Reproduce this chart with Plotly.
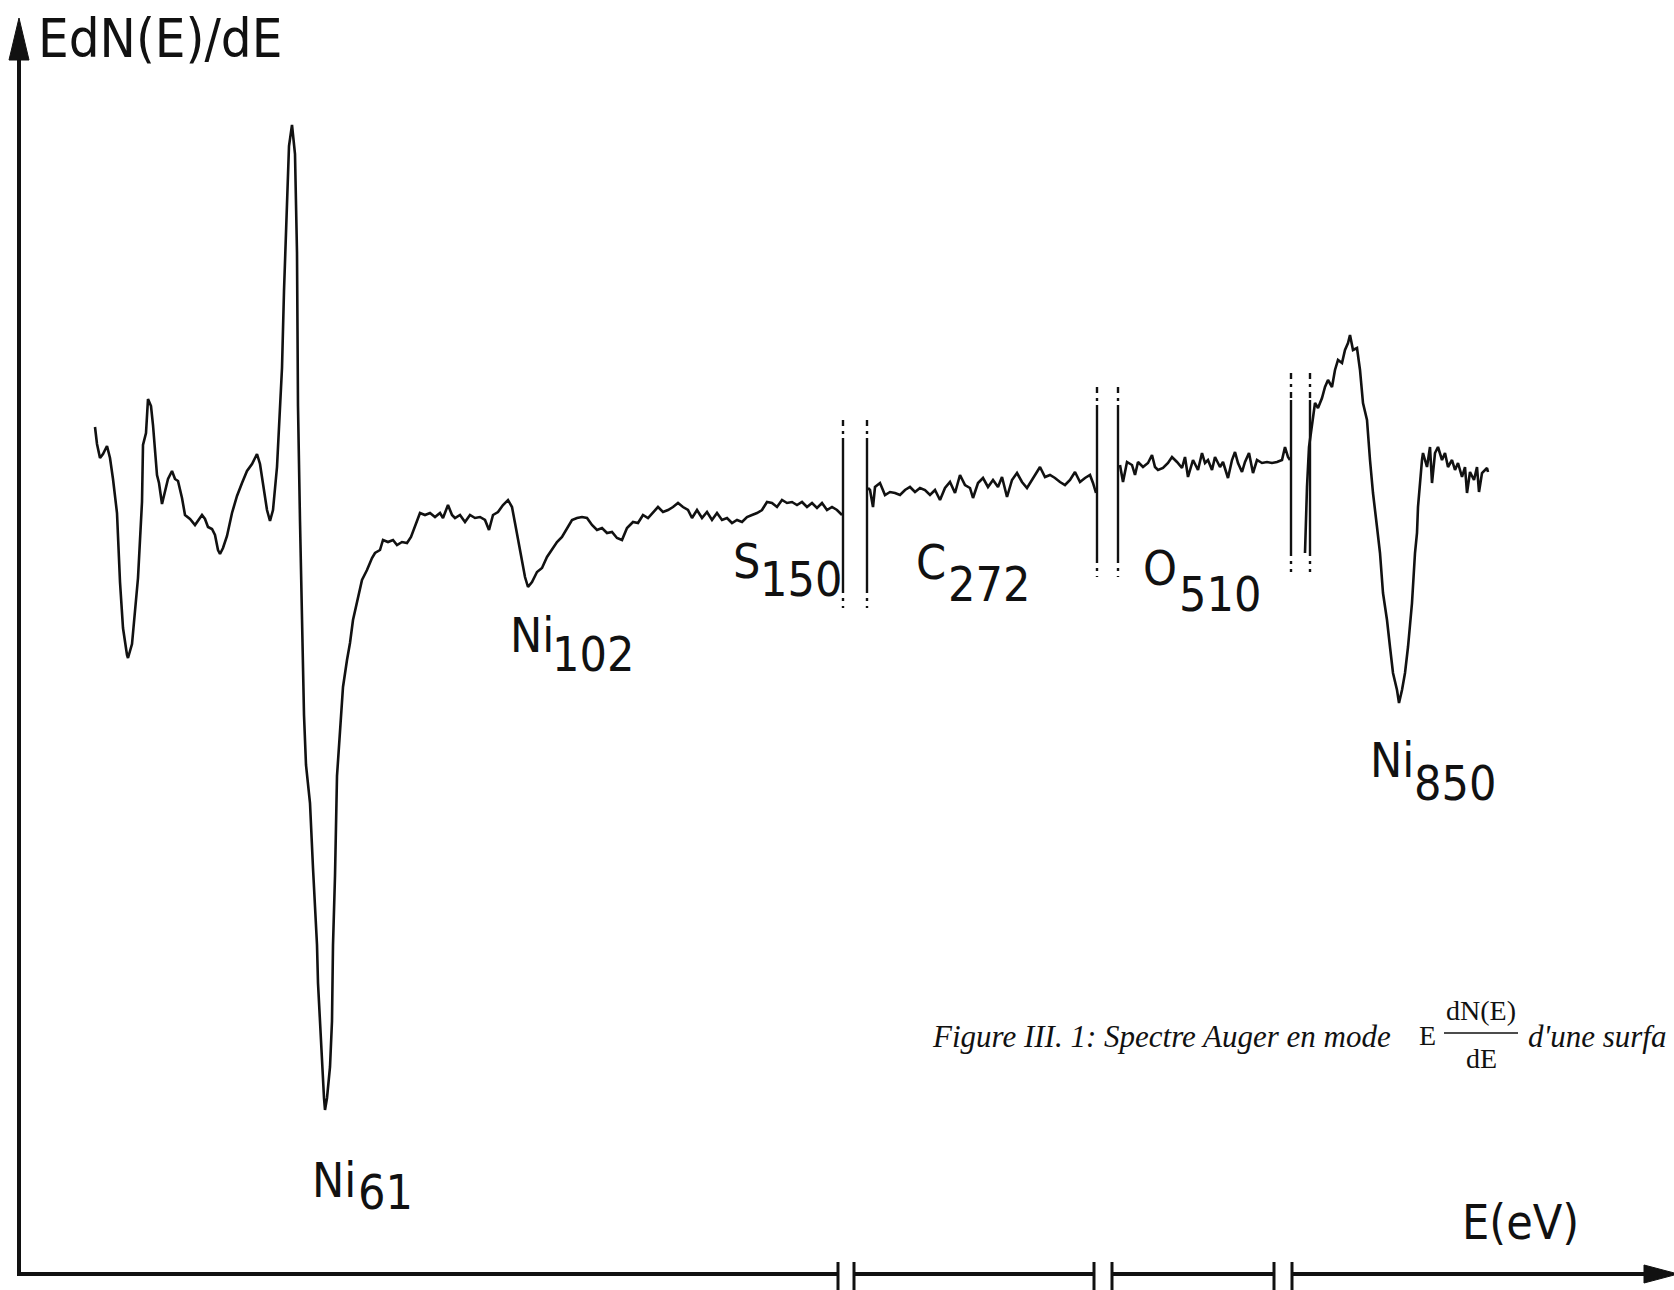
import plotly.graph_objects as go

# ---------------- data: recorder trace (abscissa in chart units, EdN(E)/dE in arbitrary units)
ni_low_x = [95, 97, 100, 103, 107, 110, 113, 117, 120, 123, 127, 128, 132, 135, 138, 142, 143, 146, 148, 151,
            153, 157, 159, 162, 165, 168, 172, 175, 178, 182, 185, 190, 195, 198, 202, 205, 208, 212, 215, 218,
            220, 223, 227, 232, 237, 242, 247, 252, 257, 260, 263, 267, 270, 273, 277, 280, 282, 284, 287, 289,
            292, 295, 297, 298, 300, 302, 304, 306, 310, 313, 317, 318, 320, 322, 323, 324, 325, 327, 330, 332,
            333, 335, 337, 340, 343, 347, 350, 353, 358, 362, 367, 372, 375, 380, 383, 388, 393, 397, 402, 407,
            411, 415, 420, 425, 430, 435, 440, 443, 448, 452, 455, 460, 465, 470, 475, 480, 485, 489, 493, 498,
            503, 508, 512, 515, 518, 522, 525, 528, 532, 537, 542, 547, 552, 557, 562, 567, 572, 577, 582, 587,
            592, 597, 602, 607, 612, 617, 622, 627, 633, 638, 643, 648, 653, 658, 663, 668, 673, 678, 683, 688,
            692, 697, 702, 707, 712, 717, 722, 727, 732, 737, 742, 747, 752, 757, 762, 767, 772, 777, 782, 787,
            792, 797, 802, 807, 812, 817, 822, 827, 832, 837, 842]
ni_low_y = [847, 830, 816, 820, 828, 816, 795, 761, 692, 646, 619, 616, 630, 664, 696, 772, 829, 841, 875, 868,
            849, 799, 791, 770, 783, 795, 803, 795, 793, 776, 759, 755, 749, 753, 759, 755, 747, 745, 739, 724,
            720, 726, 738, 761, 778, 791, 803, 810, 820, 810, 791, 764, 753, 764, 807, 860, 906, 983, 1059, 1128,
            1149, 1120, 1021, 868, 753, 638, 559, 509, 471, 406, 329, 291, 253, 214, 184, 176, 164, 176, 207, 253,
            329, 398, 498, 540, 587, 614, 631, 654, 677, 694, 704, 716, 721, 724, 734, 732, 734, 729, 732, 731,
            737, 747, 761, 759, 761, 757, 761, 756, 769, 759, 756, 759, 752, 759, 756, 757, 754, 744, 759, 762,
            769, 774, 767, 751, 734, 711, 697, 687, 692, 702, 706, 717, 724, 732, 737, 746, 754, 756, 757, 756,
            749, 744, 746, 741, 742, 736, 734, 746, 752, 751, 759, 756, 762, 767, 762, 764, 767, 771, 767, 764,
            756, 764, 756, 762, 754, 761, 754, 756, 751, 754, 752, 757, 759, 761, 764, 772, 771, 767, 774, 771,
            772, 769, 772, 767, 771, 766, 771, 764, 767, 764, 759]

carbon_x = [868, 870, 873, 875, 880, 885, 890, 895, 900, 905, 910, 915, 920, 925, 930, 935, 940, 945, 950, 955,
            960, 965, 970, 973, 978, 983, 988, 993, 998, 1002, 1007, 1012, 1017, 1022, 1027, 1032, 1037, 1040,
            1045, 1050, 1055, 1060, 1065, 1070, 1075, 1080, 1085, 1090, 1093, 1096]
carbon_y = [786, 784, 767, 787, 791, 779, 782, 781, 779, 784, 787, 782, 786, 784, 779, 784, 774, 786, 792, 781,
            799, 789, 786, 776, 791, 796, 787, 794, 787, 797, 777, 794, 801, 792, 786, 794, 801, 807,
            797, 799, 796, 792, 789, 794, 802, 792, 796, 799, 791, 781]

oxygen_x = [1120, 1123, 1127, 1132, 1135, 1138, 1143, 1148, 1152, 1155, 1158, 1163, 1168, 1172, 1177, 1182, 1185,
            1188, 1193, 1198, 1202, 1205, 1208, 1212, 1215, 1220, 1223, 1228, 1232, 1235, 1238, 1242, 1245, 1249,
            1253, 1257, 1262, 1267, 1272, 1277, 1282, 1285, 1288, 1290]
oxygen_y = [809, 792, 812, 809, 799, 812, 807, 811, 819, 807, 804, 806, 811, 817, 812, 806, 817,
            797, 814, 804, 821, 811, 814, 804, 817, 807, 812, 796, 814, 822, 811, 802, 812, 821,
            801, 814, 811, 812, 811, 812, 814, 827, 817, 814]

ni_high_x = [1305, 1307, 1309, 1312, 1315, 1318, 1322, 1325, 1328, 1332, 1335, 1338, 1342, 1345, 1348, 1350, 1353,
             1357, 1360, 1363, 1367, 1370, 1373, 1377, 1380, 1383, 1387, 1390, 1393, 1397, 1399, 1402, 1405, 1408,
             1412, 1415, 1417, 1418, 1420, 1422, 1423, 1427, 1430, 1432, 1435, 1438, 1442, 1445, 1448, 1452, 1455,
             1458, 1462, 1465, 1467, 1470, 1474, 1477, 1479, 1482, 1487, 1488]
ni_high_y = [721, 787, 827, 847, 871, 866, 876, 887, 894, 887, 904, 914, 911, 924, 931, 939, 924,
             926, 904, 871, 854, 814, 781, 747, 721, 681, 654, 627, 601, 584, 571, 584, 601, 627,
             671, 721, 741, 767, 794, 814, 821, 807, 827, 791, 821, 827, 814, 821, 807, 814, 804,
             811, 797, 807, 781, 802, 794, 807, 782, 801, 806, 802]

# peak labels: (element, energy subscript)
peak_names = ["Ni", "Ni", "S", "C", "O", "Ni"]
peak_energies = ["61", "102", "150", "272", "510", "850"]

# axis breaks (pairs of abscissae)
axis_breaks = [(838, 854), (1094, 1112), (1274, 1292)]
trace_breaks = [(843, 867), (1097, 1118), (1291, 1310)]

INK = "#111111"
SANS = "Liberation Sans Narrow, DejaVu Sans Condensed, Arial Narrow, sans-serif"
SERIF = "Liberation Serif, DejaVu Serif, serif"

fig = go.Figure()
for xs, ys in [(ni_low_x, ni_low_y), (carbon_x, carbon_y), (oxygen_x, oxygen_y), (ni_high_x, ni_high_y)]:
    fig.add_trace(go.Scatter(x=xs, y=ys, mode="lines", line=dict(color=INK, width=2.6),
                             hoverinfo="skip", showlegend=False))

shapes = []
# y axis with arrow
shapes.append(dict(type="line", x0=19, x1=19, y0=-2, y1=1222, line=dict(color=INK, width=4)))
shapes.append(dict(type="path", path="M 19,1256 L 9,1214 L 29,1214 Z", fillcolor=INK, line=dict(color=INK, width=1)))
# x axis with breaks and arrow
edges = [17] + [v for pair in axis_breaks for v in pair] + [1650]
for i in range(0, len(edges), 2):
    shapes.append(dict(type="line", x0=edges[i], x1=edges[i + 1], y0=0, y1=0, line=dict(color=INK, width=4)))
for pair in axis_breaks:
    for xb in pair:
        shapes.append(dict(type="line", x0=xb, x1=xb, y0=12, y1=-16, line=dict(color=INK, width=3)))
shapes.append(dict(type="path", path="M 1678,0 L 1644,9 L 1644,-9 Z", fillcolor=INK, line=dict(color=INK, width=1)))

# dash-dotted break lines on the trace
break_extent = [(854, 836, 687, 666), (887, 869, 717, 697), (901, 874, 724, 702)]
for pair, (top, s_top, s_bot, bot) in zip(trace_breaks, break_extent):
    for xb in pair:
        shapes.append(dict(type="line", x0=xb, x1=xb, y0=s_top, y1=s_bot, line=dict(color=INK, width=2.4)))
        shapes.append(dict(type="line", x0=xb, x1=xb, y0=top, y1=s_top, line=dict(color=INK, width=2.4, dash="6px,5px,3px,5px")))
        shapes.append(dict(type="line", x0=xb, x1=xb, y0=s_bot, y1=bot, line=dict(color=INK, width=2.4, dash="6px,5px,3px,5px")))

# caption fraction bar
shapes.append(dict(type="line", x0=1444, x1=1518, y0=241, y1=241, line=dict(color=INK, width=1.3)))

ann = []
lab = dict(family=SANS, size=48, color=INK)
name_pos = [(310, 94), (508, 639), (731, 713), (914, 712), (1141, 706), (1368, 514)]
num_pos = [(356, 82), (550, 620), (758, 695), (946, 690), (1177, 680), (1412, 491)]
for name, en, (nx, ny), (ex, ey) in zip(peak_names, peak_energies, name_pos, num_pos):
    ann.append(dict(x=nx, y=ny, text=name, showarrow=False, xanchor="left", yanchor="middle", font=lab))
    ann.append(dict(x=ex, y=ey, text=en, showarrow=False, xanchor="left", yanchor="middle", font=lab))

ann.append(dict(x=36, y=1236, text="EdN(E)/dE", showarrow=False, xanchor="left", yanchor="middle",
                font=dict(family=SANS, size=54, color=INK)))
ann.append(dict(x=1460, y=52, text="E(eV)", showarrow=False, xanchor="left", yanchor="middle", font=lab))

cap_i = dict(family=SERIF, size=31, color=INK, style="italic")
cap_u = dict(family=SERIF, size=28, color=INK)
ann.append(dict(x=930, y=238, text="Figure III. 1: Spectre Auger en mode", showarrow=False,
                xanchor="left", yanchor="middle", font=cap_i))
ann.append(dict(x=1417, y=239, text="E", showarrow=False, xanchor="left", yanchor="middle", font=cap_u))
ann.append(dict(x=1481, y=264, text="dN(E)", showarrow=False, xanchor="center", yanchor="middle", font=cap_u))
ann.append(dict(x=1481, y=216, text="dE", showarrow=False, xanchor="center", yanchor="middle", font=cap_u))
ann.append(dict(x=1526, y=238, text="d'une surfa", showarrow=False, xanchor="left", yanchor="middle", font=cap_i))

fig.update_layout(
    width=1674, height=1290,
    margin=dict(l=0, r=0, t=0, b=0),
    paper_bgcolor="white", plot_bgcolor="white",
    xaxis=dict(range=[0, 1674], visible=False, fixedrange=True),
    yaxis=dict(range=[-16, 1274], visible=False, fixedrange=True),
    shapes=shapes, annotations=ann, showlegend=False,
)
fig.write_html("out.html")
